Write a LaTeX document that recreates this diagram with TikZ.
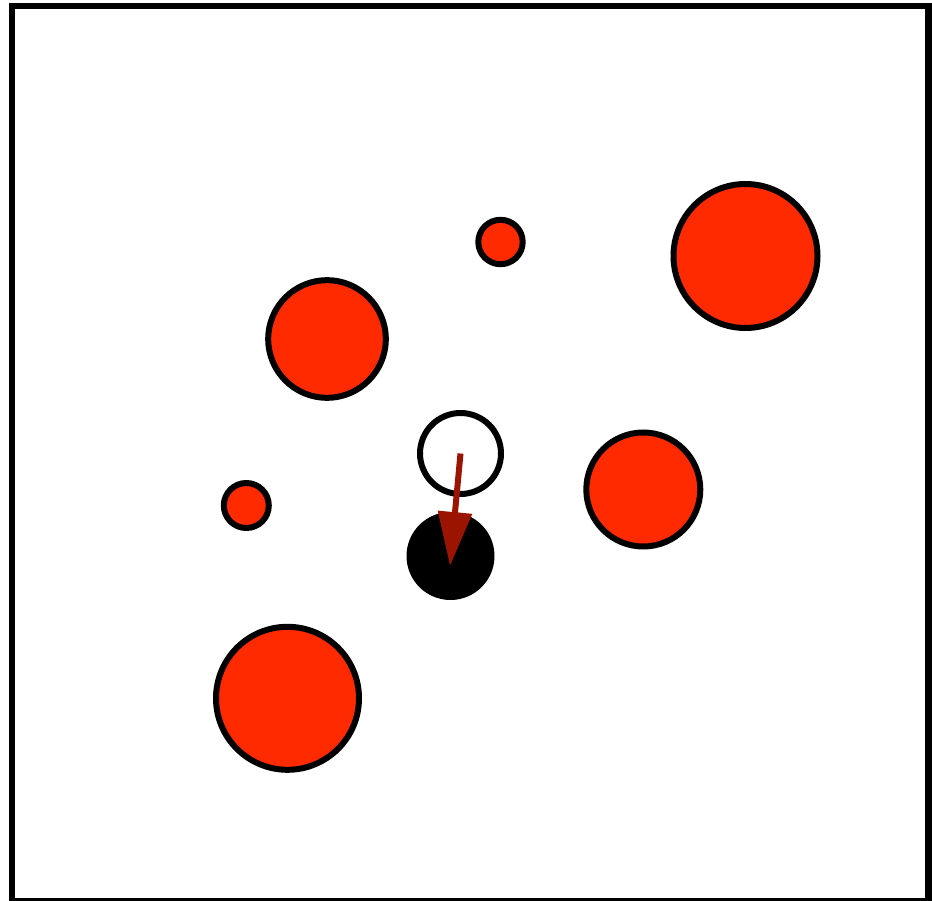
\documentclass[tikz,border=0pt]{standalone}
\usetikzlibrary{arrows.meta}
\definecolor{ballred}{HTML}{FF2A00}
\definecolor{arrred}{HTML}{9B1400}
\begin{document}
\begin{tikzpicture}[x=1pt,y=-1pt,
  ball/.style={draw=black,line width=6pt,fill=ballred},
  hollow/.style={draw=black,line width=6pt,fill=white},
  solid ball/.style={fill=black},
  move/.style={draw=arrred,line width=6pt,-{Triangle[length=54pt,width=33pt]}}]
\useasboundingbox (0,0) rectangle (932,901);
\draw[line width=6.5pt] (12,6) rectangle (928.5,901);
\coordinate (b1) at (500.5,242);
\coordinate (b2) at (745.5,256);
\coordinate (b3) at (327,339);
\coordinate (b4) at (643.3,489.5);
\coordinate (b5) at (246.3,505.5);
\coordinate (b6) at (287.5,698.3);
\coordinate (target) at (450.5,556);
\coordinate (start) at (460.5,453.5);
\coordinate (tip) at (450,566);
\draw[ball] (b1) circle[radius=22.2pt];
\draw[ball] (b2) circle[radius=72pt];
\draw[ball] (b3) circle[radius=58.8pt];
\draw[ball] (b4) circle[radius=57pt];
\draw[ball] (b5) circle[radius=22.5pt];
\draw[ball] (b6) circle[radius=71.5pt];
\fill[solid ball] (target) circle[radius=44pt];
\draw[hollow] (start) circle[radius=40.5pt];
\draw[move] (start) -- (tip);
\end{tikzpicture}
\end{document}
